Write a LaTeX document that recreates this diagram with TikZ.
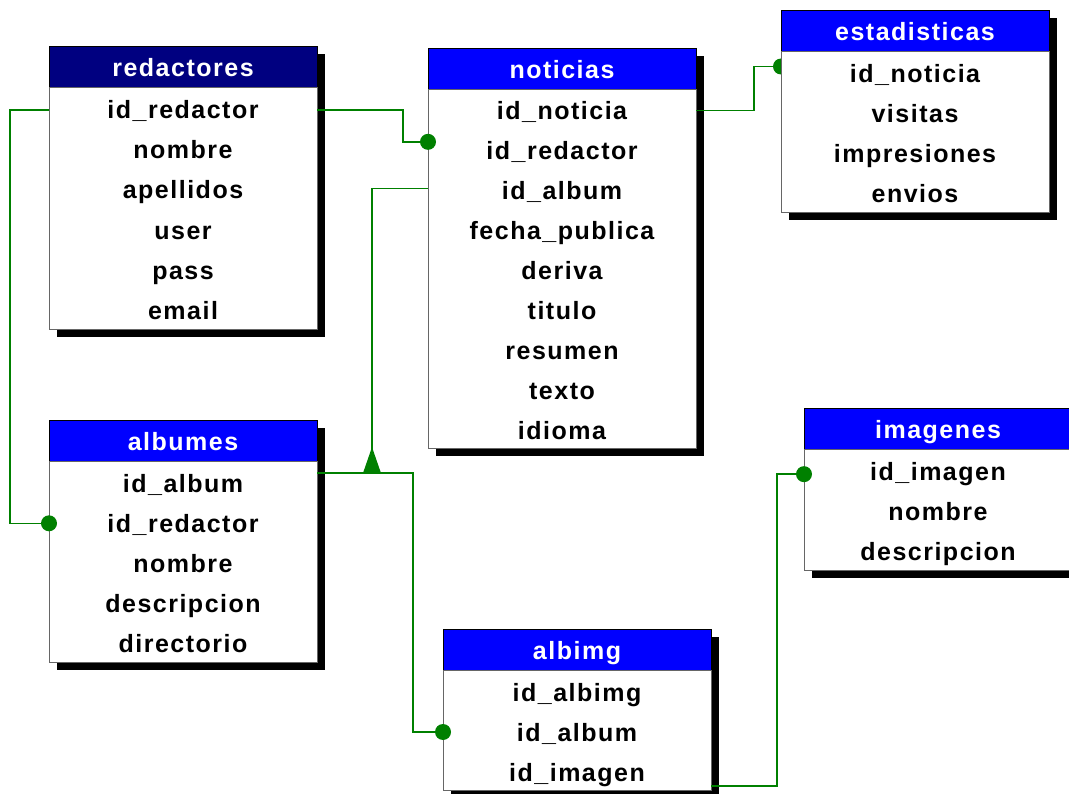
\documentclass[tikz,border=0pt]{standalone}
\usepackage{fontspec}
\setmainfont{Liberation Sans}
\newfontfamily\erfont[LetterSpace=6]{Liberation Sans}
\definecolor{navyhdr}{RGB}{0,0,128}
\definecolor{bluehdr}{RGB}{0,0,255}
\definecolor{conngreen}{RGB}{0,128,0}
\tikzset{
  tshadow/.style={fill=black, draw=none},
  thead/.style={draw=black, line width=0.8pt, text=white,
    font=\erfont\bfseries\fontsize{25}{25}\selectfont,
    minimum width=268pt, minimum height=41pt, text height=20pt, text depth=0pt,
    inner sep=0pt, outer sep=0pt, anchor=north west},
  tbody/.style={draw=black!60, fill=white, line width=0.8pt, minimum width=268pt,
    inner sep=0pt, outer sep=0pt, anchor=north west},
  trow/.style={font=\erfont\bfseries\fontsize{25}{25}\selectfont, text=black,
    minimum width=268pt, text height=18pt, text depth=0pt,
    inner sep=0pt, outer sep=0pt, anchor=center},
  conn/.style={draw=conngreen, line width=1.5pt},
  cdot/.style={fill=conngreen, draw=none},
}
% #1 name, #2 left x, #3 top y, #4 header colour, #5 title, #6 rows, #7 body height, #8 row texts
\newcommand\erTable[8]{%
  \pgfmathsetmacro\erstep{#7/#6}%
  \fill[tshadow] (#2+8,#3+8) rectangle (#2+276,#3+49+#7);
  \node[thead, fill=#4] (#1H) at (#2,#3) {#5};
  \node[tbody, minimum height=#7pt] (#1B) at (#2,#3+41) {};
  \foreach \r [count=\i] in {#8} {
    \node[trow] (#1\i) at (#2+134,{#3+43+(\i-0.5)*\erstep}) {\r};
  }
}
\begin{document}
\begin{tikzpicture}[x=1pt,y=-1pt]
\useasboundingbox (0,0) rectangle (1069,794);
\clip (0,0) rectangle (1069,794);

\erTable{red}{49}{46}{navyhdr}{redactores}{6}{242}{id\_redactor,nombre,apellidos,user,pass,email}
\erTable{not}{428}{48}{bluehdr}{noticias}{9}{359}{id\_noticia,id\_redactor,id\_album,fecha\_publica,deriva,titulo,resumen,texto,idioma}
\erTable{alb}{49}{420}{bluehdr}{albumes}{5}{201}{id\_album,id\_redactor,nombre,descripcion,directorio}
\erTable{img}{804}{408}{bluehdr}{imagenes}{3}{121}{id\_imagen,nombre,descripcion}
\erTable{aig}{443}{629}{bluehdr}{albimg}{3}{120}{id\_albimg,id\_album,id\_imagen}

% connector end points
\coordinate (c1e) at ([yshift=9pt]not2.west);
\coordinate (c3e) at ([yshift=-0pt]aig2.west);
\coordinate (c5e) at ([yshift=-3pt]img1.west);
\coordinate (ja) at ([yshift=10pt]alb1.east);
\coordinate (jn) at ([xshift=55pt]ja);

% redactores -> noticias
\draw[conn] ([yshift=-1pt]red1.east) -- ++(86,0) |- (c1e);
% redactores -> albumes
\draw[conn] ([yshift=-1pt]red1.west) -- ++(-39,0) |- (alb2.west);
% albumes -> albimg
\draw[conn] (ja) -- ++(96,0) |- (c3e);
% noticias -> albumes (arrow)
\draw[conn] ([yshift=2pt]not3.west) -| (jn);
\fill[conngreen] ([xshift=-9pt]jn) -- ([xshift=9pt]jn) -- ([yshift=26pt]jn) -- cycle;
% albimg -> imagenes
\draw[conn] ([yshift=-14pt]aig3.east) -- ++(66,0) |- (c5e);

\fill[cdot] (c1e) circle (8);
\fill[cdot] (alb2.west) circle (8);
\fill[cdot] (c3e) circle (8);
\fill[cdot] (c5e) circle (8);

% estadisticas drawn last so the dot shows as a half circle
\coordinate (c4e) at (781,66.5);
\draw[conn] ([yshift=0.5pt]not1.east) -- ++(58,0) |- (c4e);
\fill[cdot] (c4e) circle (8);
\erTable{est}{781}{10}{bluehdr}{estadisticas}{4}{161}{id\_noticia,visitas,impresiones,envios}
\end{tikzpicture}
\end{document}
